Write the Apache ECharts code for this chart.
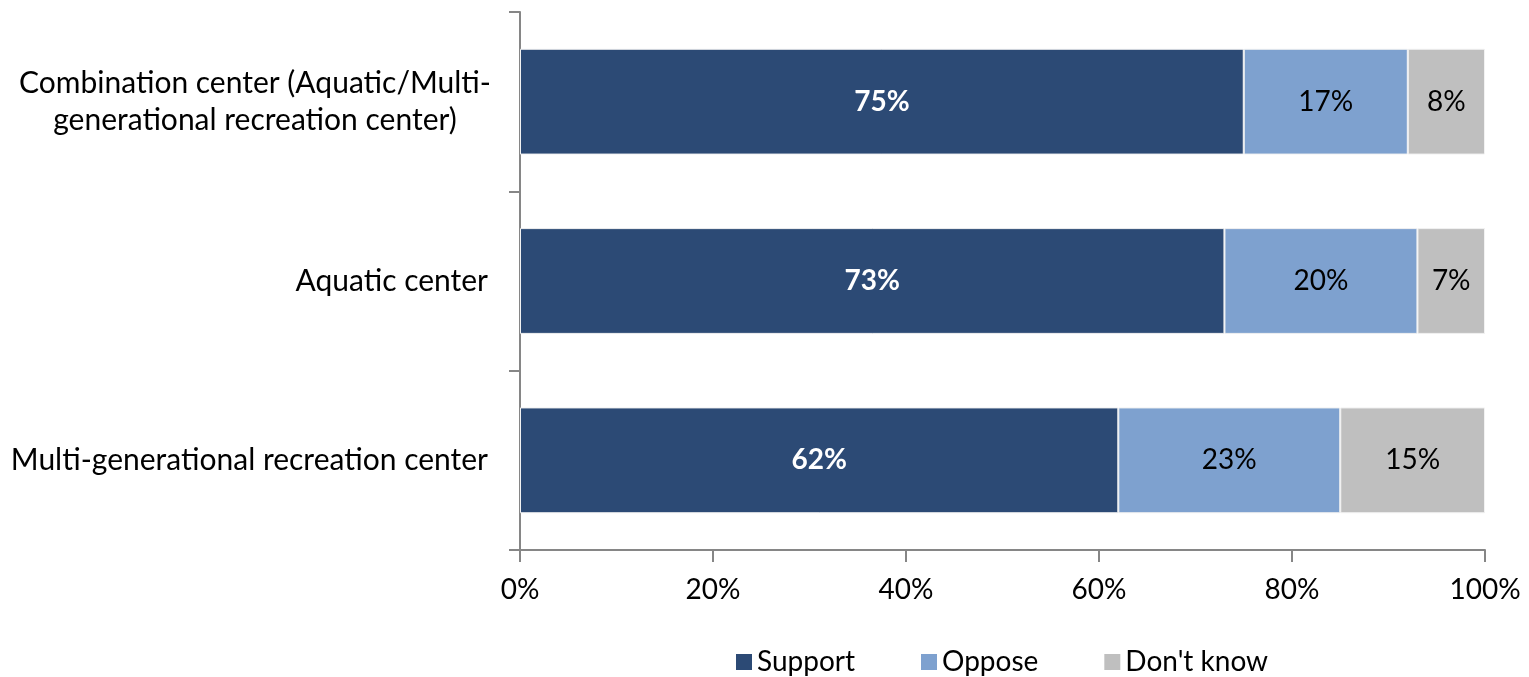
<!DOCTYPE html>
<html>
<head>
<meta charset="utf-8">
<script src="https://cdn.jsdelivr.net/npm/echarts@6/dist/echarts.min.js"></script>
<style>
  html, body { margin: 0; padding: 0; background: #fff; }
  #main { width: 1529px; height: 677px; }
</style>
</head>
<body>
<div id="main"></div>
<script>
// categories from bottom to top (category axis grows upward)
const categories = [
  'Multi-generational recreation center',
  'Aquatic center',
  'Combination center (Aquatic/Multi-\ngenerational recreation center)'
];
const support = [62, 73, 75];
const oppose = [23, 20, 17];
const dontKnow = [15, 7, 8];
const xTicks = [0, 20, 40, 60, 80, 100];

const chart = echarts.init(document.getElementById('main'));
const font = 'Lato';
const fs = 28;
const yfs = 30;

function barSeries(name, data, color, labelColor, bold) {
  return {
    name: name,
    type: 'bar',
    stack: 'total',
    data: data,
    barWidth: '59%',
    itemStyle: {color: color, borderColor: '#f2f2f2', borderWidth: 1},
    label: {
      show: true,
      formatter: '{c}%',
      color: labelColor,
      fontFamily: font,
      fontSize: fs,
      fontWeight: bold ? 'bold' : 'normal'
    },
    emphasis: {disabled: true}
  };
}

let option = {
  animation: false,
  textStyle: {fontFamily: font},
  grid: {left: 520, right: 44, top: 12, bottom: 127, containLabel: false},
  legend: {
    top: 643,
    left: 731,
    itemWidth: 16,
    itemHeight: 16,
    itemGap: 66,
    itemStyle: {borderWidth: 0},
    icon: 'rect',
    textStyle: {fontFamily: font, fontSize: fs, color: '#000'},
    data: ['Support', 'Oppose', "Don't know"]
  },
  xAxis: {
    type: 'value',
    min: xTicks[0],
    max: xTicks[xTicks.length - 1],
    interval: 20,
    axisLine: {show: true, lineStyle: {color: '#868686', width: 2}},
    axisTick: {show: true, length: 12, lineStyle: {color: '#868686', width: 2}},
    splitLine: {show: false},
    axisLabel: {
      formatter: '{value}%',
      color: '#000',
      fontFamily: font,
      fontSize: fs,
      margin: 26
    }
  },
  yAxis: {
    type: 'category',
    data: categories,
    axisLine: {show: true, lineStyle: {color: '#868686', width: 2}},
    axisTick: {show: true, length: 11, lineStyle: {color: '#868686', width: 2}},
    axisLabel: {
      color: '#000',
      fontFamily: font,
      fontSize: yfs,
      lineHeight: 37,
      margin: 32,
      formatter: function (v) {
        if (v.indexOf('\n') < 0) return v;
        return v.split('\n').map(s => '{c|' + s + '}').join('\n');
      },
      rich: {
        c: {width: 466, align: 'center', fontFamily: font, fontSize: yfs, lineHeight: 37, color: '#000'}
      }
    }
  },
  series: [
    barSeries('Support', support, '#2c4a75', '#fff', true),
    barSeries('Oppose', oppose, '#7ea1cf', '#000', false),
    barSeries("Don't know", dontKnow, '#bfbfbf', '#000', false)
  ]
};
chart.setOption(option);
</script>
</body>
</html>
